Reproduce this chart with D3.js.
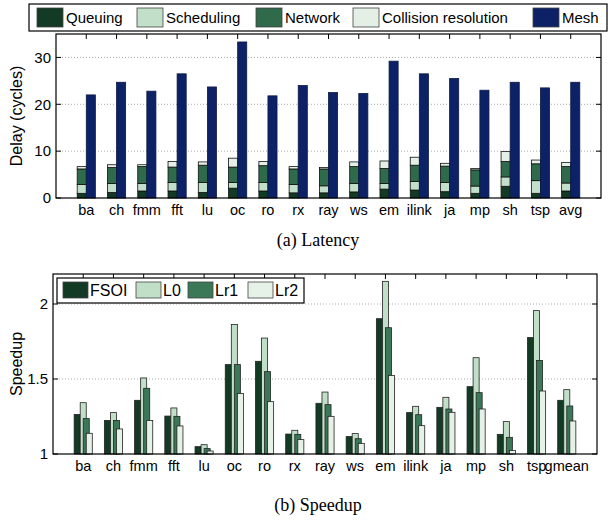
<!DOCTYPE html>
<html><head><meta charset="utf-8">
<script src="https://cdn.jsdelivr.net/npm/d3@7"></script>
<style>body{margin:0;background:#fff}svg{display:block}</style>
</head><body>
<svg id="c" width="613" height="521"></svg>
<script>
const categoriesA = ['ba','ch','fmm','fft','lu','oc','ro','rx','ray','ws','em','ilink','ja','mp','sh','tsp','avg'];
const queuing    = [1.0,1.2,1.5,1.5,1.2,2.1,1.5,1.1,1.1,1.3,1.9,1.7,1.35,1.0,2.5,1.0,1.5];
const scheduling = [1.9,1.9,1.6,1.8,2.1,1.2,1.8,1.8,1.5,1.8,1.2,1.8,1.95,1.55,2.0,2.7,1.7];
const network    = [3.3,3.4,3.6,3.3,3.7,3.3,3.6,3.3,3.6,3.6,3.2,3.5,3.5,3.45,3.3,3.6,3.5];
const collision  = [0.5,0.6,0.4,1.2,0.7,1.9,0.9,0.5,0.3,1.0,1.6,1.7,0.6,0.3,2.1,0.8,0.9];
const mesh       = [22.0,24.7,22.8,26.5,23.7,33.3,21.8,24.0,22.5,22.3,29.2,26.5,25.5,23.0,24.7,23.5,24.7];
const delayTicks = [0,10,20,30];

const categoriesB = ['ba','ch','fmm','fft','lu','oc','ro','rx','ray','ws','em','ilink','ja','mp','sh','tsp','gmean'];
const fsoi = [1.264,1.224,1.358,1.253,1.049,1.596,1.618,1.133,1.338,1.116,1.902,1.276,1.311,1.449,1.131,1.776,1.358];
const l0   = [1.342,1.276,1.507,1.307,1.062,1.864,1.773,1.158,1.413,1.136,2.151,1.318,1.378,1.642,1.216,1.956,1.429];
const lr1  = [1.236,1.224,1.438,1.251,1.036,1.596,1.549,1.131,1.329,1.102,1.842,1.262,1.300,1.409,1.111,1.624,1.320];
const lr2  = [1.138,1.167,1.224,1.187,1.020,1.404,1.349,1.096,1.251,1.071,1.524,1.189,1.278,1.300,1.024,1.420,1.220];
const speedupTicks = [1,1.5,2];
const speedupTickLabels = ['1','1.5','2'];

const C = {q:'#123a24', s:'#c2e0c9', n:'#2f6a4b', c:'#e4f0e5', m:'#0d2266'};
const CB = {f:'#123a24', l0:'#c0dfc6', l1:'#3a7858', l2:'#e6f2e7'};
const FONT = '"Liberation Sans", Arial, sans-serif';

const svg = d3.select('#c');

function frame(g, x, y, L, R, yTicks){
  g.selectAll('.grid').data(yTicks.filter(t=>t>y.domain()[0])).join('line')
    .attr('x1',L).attr('x2',R).attr('y1',d=>y(d)).attr('y2',d=>y(d))
    .attr('stroke','#aaa').attr('stroke-width',1).attr('stroke-dasharray','1,2');
}
function axesOver(g, x, y, L, R, T, B, yTicks, yLabels, cats){
  g.append('rect').attr('x',L).attr('y',T).attr('width',R-L).attr('height',B-T)
    .attr('fill','none').attr('stroke','#000').attr('stroke-width',1.2);
  g.selectAll('.tt').data(cats).join('line')
    .attr('x1',(d,i)=>x(i+1)).attr('x2',(d,i)=>x(i+1)).attr('y1',T).attr('y2',T+5)
    .attr('stroke','#000');
  yTicks.forEach(t=>{
    g.append('line').attr('x1',L).attr('x2',L+5).attr('y1',y(t)).attr('y2',y(t)).attr('stroke','#000');
    g.append('line').attr('x1',R-5).attr('x2',R).attr('y1',y(t)).attr('y2',y(t)).attr('stroke','#000');
  });
  g.selectAll('.yl').data(yTicks).join('text')
    .attr('x',L-5).attr('y',d=>y(d)).attr('dy','0.35em').attr('text-anchor','end')
    .attr('font-family',FONT).attr('font-size',15).text((d,i)=>yLabels[i]);
  g.selectAll('.xl').data(cats).join('text')
    .attr('x',(d,i)=>x(i+1)).attr('y',B+17).attr('text-anchor','middle')
    .attr('font-family',FONT).attr('font-size',14.5).text(d=>d);
}

// ---------- Chart A ----------
{
  const L=56,R=601,T=34,B=198;
  const x = d3.scaleLinear().domain([0,18]).range([L,R]);
  const y = d3.scaleLinear().domain([0,35]).range([B,T]);
  const g = svg.append('g');
  frame(g,x,y,L,R,delayTicks);
  const keys = ['q','s','n','c'];
  const rows = categoriesA.map((c,i)=>({i, q:queuing[i], s:scheduling[i], n:network[i], c:collision[i]}));
  const stack = d3.stack().keys(keys)(rows);
  const bw = 0.3;
  stack.forEach(layer=>{
    g.selectAll(null).data(layer).join('rect')
      .attr('x',d=>x(d.data.i+1-bw)).attr('width',x(bw)-x(0))
      .attr('y',d=>y(d[1])).attr('height',d=>y(d[0])-y(d[1]))
      .attr('fill',C[layer.key]).attr('stroke','#111').attr('stroke-width',0.8);
  });
  g.selectAll(null).data(mesh).join('rect')
    .attr('x',(d,i)=>x(i+1)).attr('width',x(bw)-x(0))
    .attr('y',d=>y(d)).attr('height',d=>y(0)-y(d))
    .attr('fill',C.m).attr('stroke','#0a1a44').attr('stroke-width',0.8);
  axesOver(g,x,y,L,R,T,B,delayTicks,delayTicks.map(String),categoriesA);
  g.append('text').attr('transform',`translate(22,${(T+B)/2}) rotate(-90)`)
    .attr('text-anchor','middle').attr('font-family',FONT).attr('font-size',16).text('Delay (cycles)');
  const lg = svg.append('g');
  lg.append('rect').attr('x',29).attr('y',4).attr('width',578).attr('height',27)
    .attr('fill','#fff').attr('stroke','#000').attr('stroke-width',1.2);
  const items = [['Queuing',C.q,37],['Scheduling',C.s,137],['Network',C.n,256],['Collision resolution',C.c,353],['Mesh',C.m,533]];
  items.forEach(([t,col,x0])=>{
    lg.append('rect').attr('x',x0).attr('y',8).attr('width',26).attr('height',19)
      .attr('fill',col).attr('stroke','#444').attr('stroke-width',0.8);
    lg.append('text').attr('x',x0+29).attr('y',23).attr('font-family',FONT).attr('font-size',15).text(t);
  });
  svg.append('text').attr('x',318).attr('y',246).attr('text-anchor','middle')
    .attr('font-family','"Liberation Serif", "DejaVu Serif", serif').attr('font-size',18).text('(a) Latency');
}

// ---------- Chart B ----------
{
  const L=53,R=597,T=274,B=454;
  const x = d3.scaleLinear().domain([0,18]).range([L,R]);
  const y = d3.scaleLinear().domain([1,2.2]).range([B,T]);
  const g = svg.append('g');
  frame(g,x,y,L,R,speedupTicks);
  const series = [[fsoi,CB.f,-0.3],[l0,CB.l0,-0.1],[lr1,CB.l1,0],[lr2,CB.l2,0.1]];
  const bw = 0.2;
  series.forEach(([vals,col,off])=>{
    g.selectAll(null).data(vals).join('rect')
      .attr('x',(d,i)=>x(i+1+off)).attr('width',x(bw)-x(0))
      .attr('y',d=>y(d)).attr('height',d=>y(1)-y(d))
      .attr('fill',col).attr('stroke','#222').attr('stroke-width',0.8);
  });
  axesOver(g,x,y,L,R,T,B,speedupTicks,speedupTickLabels,categoriesB);
  g.append('text').attr('transform',`translate(22,${(T+B)/2}) rotate(-90)`)
    .attr('text-anchor','middle').attr('font-family',FONT).attr('font-size',16).text('Speedup');
  const lg = svg.append('g');
  lg.append('rect').attr('x',57).attr('y',278).attr('width',247).attr('height',25)
    .attr('fill','#fff').attr('stroke','#000').attr('stroke-width',1.2);
  const items = [['FSOI',CB.f,63],['L0',CB.l0,136],['Lr1',CB.l1,188],['Lr2',CB.l2,248]];
  items.forEach(([t,col,x0])=>{
    lg.append('rect').attr('x',x0).attr('y',282).attr('width',25).attr('height',16)
      .attr('fill',col).attr('stroke','#444').attr('stroke-width',0.8);
    lg.append('text').attr('x',x0+27).attr('y',296).attr('font-family',FONT).attr('font-size',16).text(t);
  });
  svg.append('text').attr('x',318).attr('y',511).attr('text-anchor','middle')
    .attr('font-family','"Liberation Serif", "DejaVu Serif", serif').attr('font-size',18).text('(b) Speedup');
}
</script>
</body></html>
